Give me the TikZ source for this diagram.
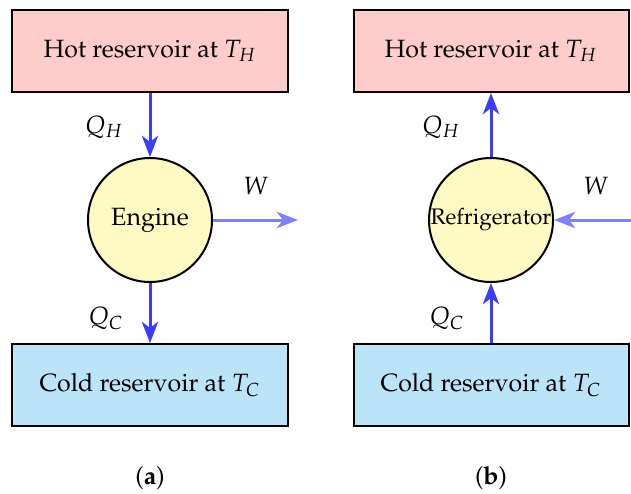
\documentclass[tikz,border=0pt]{standalone}
\usepackage[T1]{fontenc}
\usepackage{mathpazo}
\usepackage{amsmath}
\usetikzlibrary{positioning,arrows.meta}

\definecolor{hotfill}{RGB}{255,204,204}
\definecolor{coldfill}{RGB}{188,228,248}
\definecolor{enginefill}{RGB}{255,250,196}
\definecolor{heatblue}{RGB}{60,60,255}
\definecolor{workblue}{RGB}{128,128,255}

\begin{document}
\begin{tikzpicture}[x=0.4pt, y=-0.4pt,
			resbox/.style={rectangle, draw=black, line width=0.8pt, minimum width=110pt, minimum height=32.8pt},
			machine/.style={circle, draw=black, line width=0.8pt, fill=enginefill, minimum size=49.6pt, inner sep=0pt},
			heat/.style={-{Stealth[length=8.5pt,width=6.5pt,inset=2.5pt]}, heatblue, line width=1.2pt},
			work/.style={-{Stealth[length=8.5pt,width=6.5pt,inset=2.5pt]}, workblue, line width=1.2pt},
		]
		\useasboundingbox (0,0) rectangle (631,493);

			%Nodes (a)
			\node[machine]					(eng)	at (150,220)	{Engine};
			\node[resbox, fill=hotfill]		(hotA)	at (150,51)		{Hot reservoir at $T_H$};
			\node[resbox, fill=coldfill]	(coldA)	at (150,385)	{Cold reservoir at $T_C$};
			\coordinate						(wA)	at (298,220);
			\node							(qhA)	at (104,127)	{$Q_H$};
			\node							(qcA)	at (106,318)	{$Q_C$};
			\node							(lwA)	at (256,186)	{$W$};
			\node							(capA)	at (150,478)	{(\textbf{a})};

			%Nodes (b)
			\node[machine, font=\small]		(ref)	at (491,220)	{Refrigerator};
			\node[resbox, fill=hotfill]		(hotB)	at (491,51)		{Hot reservoir at $T_H$};
			\node[resbox, fill=coldfill]	(coldB)	at (491,385)	{Cold reservoir at $T_C$};
			\coordinate						(wB)	at (631,220);
			\node							(qhB)	at (441,127)	{$Q_H$};
			\node							(qcB)	at (447,318)	{$Q_C$};
			\node							(lwB)	at (596,186)	{$W$};
			\node							(capB)	at (491,478)	{(\textbf{b})};

			%Lines
			\draw[heat]	(hotA) -- (eng);
			\draw[heat]	(eng) -- (coldA);
			\draw[work]	(eng) -- (wA);
			\draw[heat]	(coldB) -- (ref);
			\draw[heat]	(ref) -- (hotB);
			\draw[work]	(wB) -- (ref);

		\end{tikzpicture}
\end{document}
